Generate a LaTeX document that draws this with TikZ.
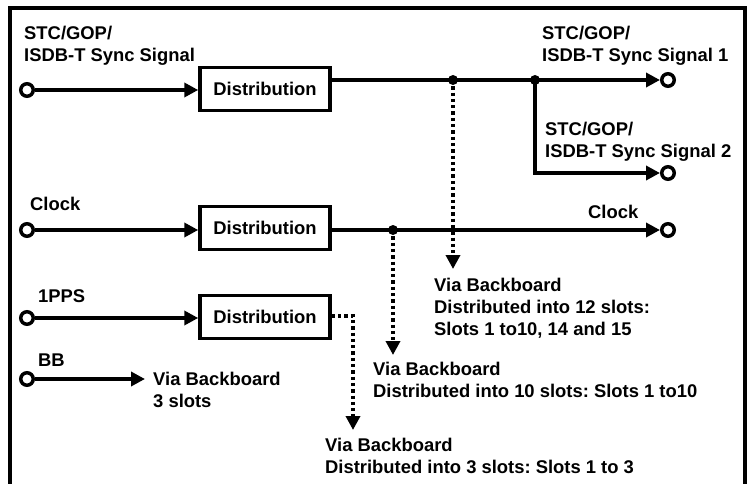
\documentclass[tikz,border=0pt]{standalone}
\usepackage{fontspec}
\setmainfont{Liberation Sans}
\usetikzlibrary{arrows.meta}
\frenchspacing
\tikzset{
  port/.style = {circle, draw, line width = 3.5pt, minimum size = 12.5pt, inner sep = 0pt},
  distbox/.style = {draw, line width = 3.5pt, minimum width = 130pt, minimum height = 43pt, inner sep = 0pt},
  junction/.style = {circle, fill, minimum size = 10pt, inner sep = 0pt},
  lbl/.style = {anchor = west, align = left, inner sep = 0pt},
  sig/.style = {line width = 3.5pt, -{Triangle[length = 14pt, width = 14pt]}},
  bus/.style = {sig, dash pattern = on 3.3pt off 3pt}
}
\begin{document}
\begin{tikzpicture}[x = 1pt, y = -1pt, font = \bfseries\fontsize{18.4}{22}\selectfont]
      \useasboundingbox (0,0) rectangle (750,484);
      \draw [line width = 3.5pt] (10,484) -- (10,8) -- (745,8) -- (745,484);
      % inputs and distribution boxes
      \node [port] (in1) at (27,90) {};
      \node [port] (in2) at (27,230) {};
      \node [port] (in3) at (27,318) {};
      \node [port] (in4) at (27,379) {};
      \node [distbox] (dist1) at (265,89) {Distribution};
      \node [distbox] (dist2) at (265,228) {Distribution};
      \node [distbox] (dist3) at (265,317) {Distribution};
      \node [port] (out1) at (668,80) {};
      \node [port] (out2) at (668,173) {};
      \node [port] (out3) at (668,230) {};
      \node [junction] (j1) at (453,80) {};
      \node [junction] (j2) at (535,80) {};
      \node [junction] (j3) at (393,230) {};
      \coordinate (bbend) at (145,379);
      \coordinate (t12) at (453,269);
      \coordinate (t10) at (393,355);
      \coordinate (bend3) at (353,316);
      \coordinate (t3) at (353,430);
      % labels
      \node [lbl] (lin1) at (24,46) {STC/GOP/\\ISDB-T Sync Signal};
      \node [lbl] (lout1) at (542,46) {STC/GOP/\\ISDB-T Sync Signal 1};
      \node [lbl] (lout2) at (545,142) {STC/GOP/\\ISDB-T Sync Signal 2};
      \node [lbl] (lclk) at (30,204) {Clock};
      \node [lbl] (lclkout) at (588,212) {Clock};
      \node [lbl] (lpps) at (38,296) {1PPS};
      \node [lbl] (lbb) at (38,360) {BB};
      \node [lbl] (vbb) at (153,390) {Via Backboard\\3 slots};
      \node [lbl] (v12) at (434,308) {Via Backboard\\Distributed into 12 slots:\\Slots 1 to10, 14 and 15};
      \node [lbl] (v10) at (373,380) {Via Backboard\\Distributed into 10 slots: Slots 1 to10};
      \node [lbl] (v3) at (325,456) {Via Backboard\\Distributed into 3 slots: Slots 1 to 3};
      % signal lines
      \draw [sig] (in1) -- (in1 -| dist1.west);
      \draw [sig] (in2) -- (in2 -| dist2.west);
      \draw [sig] (in3) -- (in3 -| dist3.west);
      \draw [sig] (in4) -- (bbend);
      \draw [sig] (dist1.east |- j1) -- (j1.center) -- (j2.center) -- (out1);
      \draw [sig] (j2.center) |- (out2);
      \draw [sig] (dist2.east |- j3) -- (j3.center) -- (out3);
      % backboard lines
      \draw [bus] (j1.center) -- (t12);
      \draw [bus] (j3.center) -- (t10);
      \draw [bus] (dist3.east |- bend3) -- (bend3) -- (t3);
      \end{tikzpicture}
\end{document}
